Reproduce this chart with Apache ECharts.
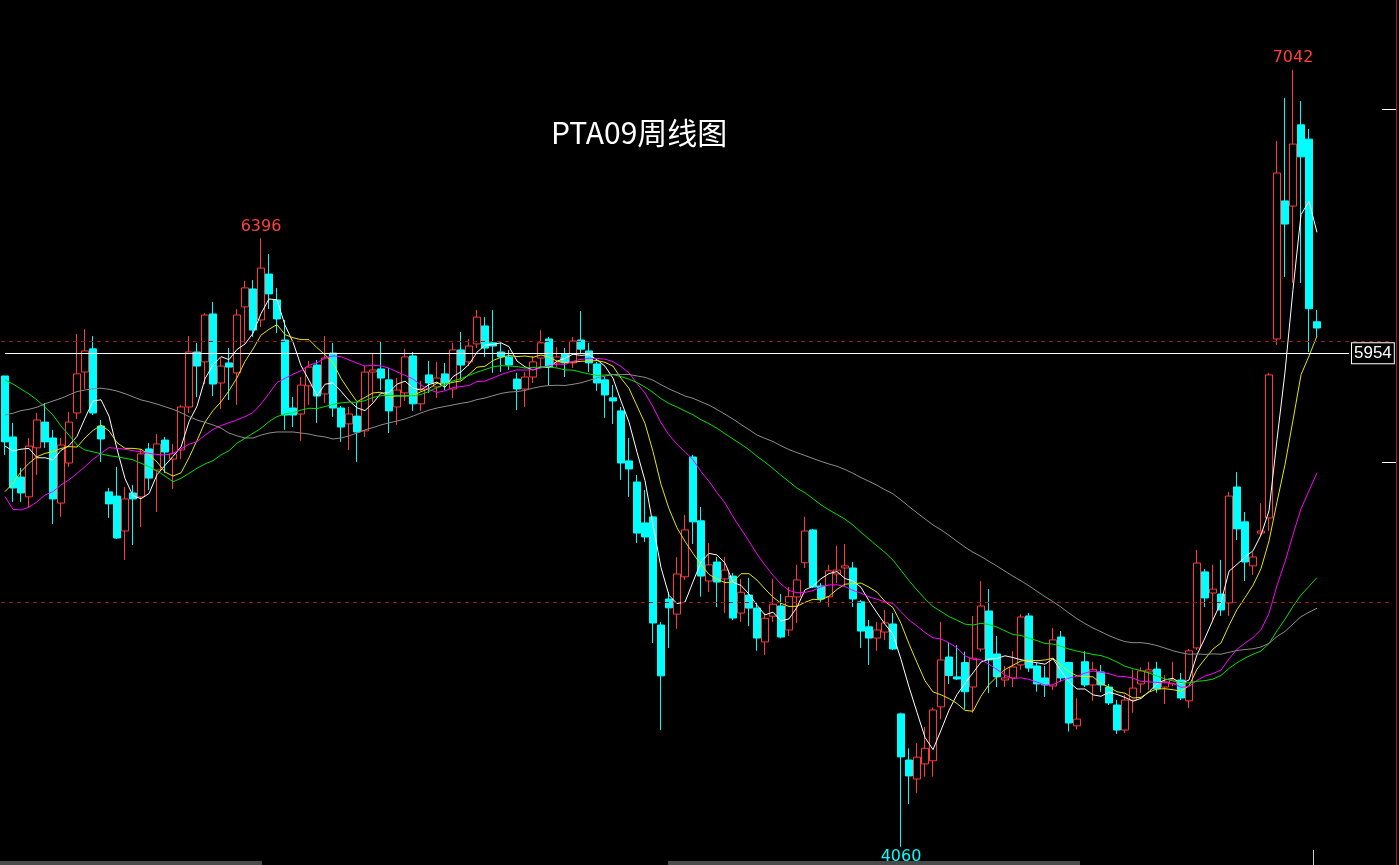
<!DOCTYPE html>
<html><head><meta charset="utf-8">
<script src="https://cdn.jsdelivr.net/npm/echarts@6/dist/echarts.min.js"></script>
<style>html,body{margin:0;padding:0;background:#000;overflow:hidden}#c{width:1399px;height:865px;}</style>
</head><body><div id="c"></div>
<script>
// ---- data (weekly candles, oldest first) ----
const opens = [5867,5633,5479,5403,5591,5690,5629,5379,5533,5725,5882,5971,5675,5422,5406,5272,5418,5403,5587,5506,
5621,5548,5583,5748,5959,5921,6105,5840,5917,5879,6132,6201,6082,6258,6159,6005,5744,5721,5829,5909,
5798,5955,5744,5683,5713,5656,5882,5894,5852,5748,5802,5944,5760,5871,5825,5875,5817,5967,5921,5990,
6059,5994,5959,5940,5855,5817,5863,5936,6009,5917,5951,5917,6005,5963,5913,5852,5783,5733,5541,5460,
5303,5326,4911,5011,4953,5096,5556,5311,5080,5153,5088,5099,4957,5026,4976,4846,4945,4984,4892,5019,
5150,5276,5061,5019,5107,5130,5130,5000,4904,4861,4884,4915,4570,4393,4320,4378,4390,4597,4788,4712,
4767,4673,4819,4965,4800,4700,4708,4758,4946,4754,4708,4677,4865,4767,4524,4770,4681,4731,4673,4604,
4508,4623,4685,4731,4742,4673,4685,4700,4620,4823,5115,5034,5030,4996,5441,5307,5138,5264,5322,6009,
6539,6519,6831,6776,6075];
const closes = [5614,5437,5418,5598,5698,5614,5395,5602,5690,5875,5963,5725,5625,5376,5245,5395,5395,5568,5475,5606,
5575,5568,5748,5959,5905,6101,5836,5905,5901,6101,6205,6043,6281,6182,6086,5717,5717,5832,5901,5790,
5936,5744,5671,5721,5652,5882,5890,5859,5733,5813,5940,5760,5817,5840,5859,5840,5967,5909,5982,6093,
5974,5982,5940,5909,5817,5863,5921,5994,5901,5940,5917,6001,5970,5917,5840,5794,5771,5533,5510,5264,
5249,4919,4716,4977,5107,5276,5307,5099,5142,5076,5122,4938,5037,4976,4861,4937,4991,4865,5020,5084,
5272,5057,5011,5119,5122,5138,5011,4888,4861,4892,4919,4819,4405,4332,4404,4438,4585,4777,4717,4704,
4655,4784,4984,4777,4712,4708,4750,4942,4746,4685,4681,4854,4708,4535,4550,4681,4741,4681,4612,4508,
4623,4669,4735,4739,4666,4693,4700,4631,4812,5149,5015,5049,4969,5406,5280,5153,5172,5272,5871,6646,
6450,6757,6708,6125,6051];
const lows = [5564,5383,5383,5364,5487,5591,5299,5326,5518,5702,5817,5717,5537,5322,5241,5161,5218,5287,5429,5345,
5495,5433,5548,5725,5786,5836,5790,5740,5775,5756,5994,6017,6055,6124,6032,5660,5671,5617,5756,5687,
5763,5710,5614,5583,5537,5633,5767,5813,5648,5679,5771,5733,5733,5802,5782,5813,5782,5852,5905,5974,
5940,5879,5882,5890,5736,5748,5840,5901,5832,5901,5863,5898,5955,5882,5810,5706,5683,5468,5403,5226,
5230,4842,4508,4823,4896,5084,5222,5020,5038,4980,4957,4930,4923,4907,4812,4796,4923,4860,4869,4919,
5130,5053,5000,4980,5072,5061,4980,4823,4758,4812,4854,4815,4060,4224,4266,4329,4329,4549,4685,4700,
4588,4574,4809,4650,4673,4673,4673,4739,4731,4655,4635,4662,4693,4502,4511,4673,4620,4655,4604,4493,
4497,4574,4650,4662,4651,4608,4677,4623,4593,4815,4980,4930,4946,4946,5237,5080,5103,5253,5272,5986,
6247,6224,6224,5959,6020];
const highs = [5867,5687,5514,5629,5725,5763,5660,5629,5729,6028,6047,6020,5698,5437,5518,5441,5449,5587,5610,5644,
5633,5606,5756,6020,5994,6109,6151,5936,5974,6124,6232,6235,6396,6335,6205,6082,5786,5863,5925,5928,
6020,5994,5752,5748,5763,5905,5955,6001,5898,5859,5971,5959,5848,5925,5921,5917,5994,6036,6009,6120,
6093,6120,5994,5967,5879,5882,5944,6043,6017,5978,5974,6017,6116,5994,5921,5863,5832,5748,5629,5487,
5429,5330,4923,5038,5172,5334,5564,5364,5226,5172,5172,5111,5088,5092,4996,4956,5088,5030,5057,5142,
5326,5280,5072,5142,5215,5222,5153,5007,4930,4923,4969,4957,4575,4438,4458,4520,4594,4923,4842,4834,
4809,4946,5080,5049,4869,4754,4811,4953,4957,4765,4754,4900,4888,4770,4630,4811,4770,4758,4685,4623,
4643,4739,4749,4770,4770,4719,4770,4727,4819,5199,5126,5142,5161,5422,5498,5345,5191,5379,5879,6769,
6934,7042,6922,6815,6120];

// moving-average values for the first weeks, where the
// averages still depend on weeks that lie left of the visible window
const ma5Lead  = [5598,5579,5586,5589];
const ma10Lead = [5423,5455,5500,5532,5557,5570,5576,5589,5596];
const ma20Lead = [5404,5355,5353,5363,5384,5410,5423,5449,5468,5493,5519,5547,5570,5592,5589,5586,5580,5576,5570];
const ma40Lead = [5852,5836,5817,5798,5775,5747,5717,5675,5640,5602,5583,5576,5568,5561,5557,5551,5545,5532,5519,5503,
5483,5461,5474,5493,5513,5529,5542,5564,5580,5609,5628,5647,5666,5692,5711,5721,5726,5736,5743];
const ma60Lead = [5717,5724,5734,5739,5747,5760,5771,5781,5794,5807,5813,5818,5820,5816,5809,5799,5787,5775,5768,5759,
5749,5739,5726,5711,5698,5689,5679,5667,5648,5637,5629,5629,5640,5648,5652,5652,5652,5648,5644,5637,
5633,5625,5629,5637,5648,5660,5669,5679,5687,5694,5702,5713,5725,5736,5744,5750,5756,5762,5767];

const maPeriods = [5, 10, 20, 40, 60];
const maLeads = [ma5Lead, ma10Lead, ma20Lead, ma40Lead, ma60Lead];
const maColors = ['#ffffff', '#e6e600', '#ff00ff', '#00e000', '#8c8c8c'];
const lastPrice = 5954;
const guideLevels = [6000, 5000];
const axisTickValues = [6890, 5535];
const titleText = 'PTA09周线图';

// ---- build ----
const N = opens.length, PAD = 9;
const categories = [];
for (let i = 0; i < N + PAD; i++) categories.push('W' + (i + 1));
const kdata = opens.map((o, i) => [o, closes[i], lows[i], highs[i]]);
function ma(n, lead) {
  return closes.map((c, i) => {
    if (i < n - 1) return lead[i];
    let sum = 0;
    for (let j = i - n + 1; j <= i; j++) sum += closes[j];
    return +(sum / n).toFixed(1);
  });
}
let gi = 0; highs.forEach((h, i) => { if (h > highs[gi]) gi = i; });
let li = 0; lows.forEach((l, i) => { if (l < lows[li]) li = i; });
let pi = 0; for (let i = 0; i < 100; i++) if (highs[i] > highs[pi]) pi = i;

const markLabel = { show: true, position: 'top', distance: 3, color: '#ff4040', fontSize: 16, fontFamily: 'DejaVu Sans', formatter: p => String(p.value) };

const chart = echarts.init(document.getElementById('c'), null, { renderer: 'canvas' });
chart.setOption({
  backgroundColor: '#000000',
  animation: false,
  title: { text: titleText, left: 546, top: 113, textStyle: { color: '#ffffff', fontSize: 30, fontWeight: 'normal', fontFamily: 'Noto Sans CJK SC' } },
  grid: { left: 1, right: 6, top: 0, bottom: 0 },
  xAxis: { type: 'category', data: categories, boundaryGap: true, show: false },
  yAxis: {
    type: 'value', min: 3990, max: 7310, position: 'right', offset: 3, scale: true,
    axisLine: { show: true, lineStyle: { color: '#b01818', width: 1 } },
    axisTick: { show: true, inside: true, length: 14, customValues: axisTickValues, lineStyle: { color: '#ffffff' } },
    axisLabel: { show: false }, splitLine: { show: false }
  },
  graphic: [
    { type: 'rect', left: 0, top: 861, shape: { width: 262, height: 4 }, style: { fill: '#4a4a4a' }, silent: true },
    { type: 'rect', left: 668, top: 861, shape: { width: 412, height: 4 }, style: { fill: '#4a4a4a' }, silent: true },
    { type: 'line', shape: { x1: 1313.5, y1: 850, x2: 1313.5, y2: 865 }, style: { stroke: '#cccccc', lineWidth: 1 }, silent: true }
  ],
  series: [
    {
      type: 'candlestick', data: kdata, barWidth: 7, z: 2,
      itemStyle: { color: '#000000', color0: '#00ffff', borderColor: '#ff3a3a', borderColor0: '#00ffff', borderWidth: 1 },
      markLine: {
        silent: true, symbol: 'none', animation: false,
        data: guideLevels.map(v => ({ yAxis: v, lineStyle: { color: '#a01616', type: [4, 4], width: 1 }, label: { show: false } })).concat([
          [ { coord: [0, lastPrice], lineStyle: { color: '#ffffff', type: 'solid', width: 1 },
              label: { show: true, position: 'end', distance: 3, formatter: String(lastPrice), color: '#ffffff', fontSize: 17, fontFamily: 'Liberation Sans',
                       backgroundColor: '#000000', borderColor: '#ffffff', borderWidth: 1, padding: [2, 2, 1, 2] } },
            { coord: [N + 3, lastPrice] } ]
        ])
      },
      markPoint: {
        symbol: 'circle', symbolSize: 1, itemStyle: { color: 'rgba(0,0,0,0)' }, silent: true, animation: false,
        label: markLabel,
        data: [
          { coord: [pi, highs[pi]], value: highs[pi] },
          { coord: [gi, highs[gi]], value: highs[gi] },
          { coord: [li, lows[li]], value: lows[li], label: { position: 'bottom', distance: 2, color: '#00ffff' } }
        ]
      }
    }
  ].concat(maPeriods.map((n, k) => ({
    type: 'line', name: 'MA' + n, data: ma(n, maLeads[k]), symbol: 'none', z: 3, silent: true,
    lineStyle: { color: maColors[k], width: 1 }
  })))
});
</script></body></html>
